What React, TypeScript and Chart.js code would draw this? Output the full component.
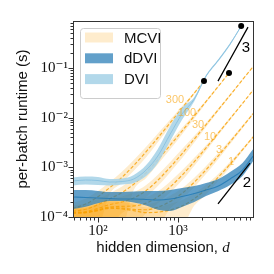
import { useEffect, useRef } from 'react';
import { Chart, registerables } from 'chart.js';
Chart.register(...registerables);

// ---------- data ----------
const dMCVI = [48, 70, 100, 140, 200, 280, 400, 560, 800, 1120, 1600, 2113, 3000, 4340, 6000, 8700];
const mcviSamples = ['300', '100', '30', '10', '3', '1'];

const mcvi300Mid = [1.48e-4, 1.82e-4, 2.57e-4, 3.89e-4, 6.33e-4, 1.09e-3, 2.07e-3, 3.94e-3, 7.92e-3, 1.54e-2, 3.14e-2, 5.45e-2];
const mcvi300Hi = [1.92e-4, 2.37e-4, 3.34e-4, 5.06e-4, 8.2e-4, 1.4e-3, 2.6e-3, 4.8e-3, 9.2e-3, 1.7e-2, 3.3e-2, 5.6e-2];
const mcvi300Lo = [7e-5, 7e-5, 7e-5, 2.9e-4, 4.9e-4, 8.5e-4, 1.6e-3, 3.2e-3, 6.8e-3, 1.38e-2, 2.95e-2, 5.3e-2];

const mcvi100Mid = [1.3e-4, 1.43e-4, 1.77e-4, 2.32e-4, 3.13e-4, 4.58e-4, 7.85e-4, 1.42e-3, 2.79e-3, 5.35e-3, 1.08e-2, 1.88e-2, 3.78e-2, 7.9e-2];
const mcvi100Hi = [1.7e-4, 1.86e-4, 2.3e-4, 3.0e-4, 4.1e-4, 6.0e-4, 1.0e-3, 1.8e-3, 3.4e-3, 6.2e-3, 1.2e-2, 2.0e-2, 3.9e-2, 8.0e-2];
const mcvi100Lo = [7e-5, 7e-5, 7e-5, 7e-5, 7e-5, 3.5e-4, 6.1e-4, 1.15e-3, 2.3e-3, 4.6e-3, 9.6e-3, 1.74e-2, 3.6e-2, 7.7e-2];

const mcvi30Mid = [1.23e-4, 1.29e-4, 1.49e-4, 1.78e-4, 2.01e-4, 2.41e-4, 3.41e-4, 5.5e-4, 1.01e-3, 1.87e-3, 3.71e-3, 6.4e-3, 1.28e-2, 2.67e-2, 5.09e-2, 1.069e-1];
const mcvi30Hi = [1.6e-4, 1.68e-4, 1.95e-4, 2.3e-4, 2.6e-4, 3.15e-4, 4.4e-4, 7.1e-4, 1.28e-3, 2.3e-3, 4.3e-3, 7.1e-3, 1.38e-2, 2.8e-2, 5.2e-2, 1.08e-1];
const mcvi30Lo = [7e-5, 7e-5, 7e-5, 7e-5, 1.2e-4, 1.6e-4, 2.5e-4, 4.2e-4, 8.0e-4, 1.52e-3, 3.15e-3, 5.7e-3, 1.18e-2, 2.55e-2, 4.95e-2, 1.05e-1];

const mcvi10Mid = [1.21e-4, 1.24e-4, 1.4e-4, 1.59e-4, 1.64e-4, 1.67e-4, 1.9e-4, 2.55e-4, 4.06e-4, 6.9e-4, 1.3e-3, 2.2e-3, 4.33e-3, 8.96e-3, 1.7e-2, 3.57e-2];
const mcvi10Hi = [1.55e-4, 1.6e-4, 1.9e-4, 2.15e-4, 2.15e-4, 2.2e-4, 2.5e-4, 3.3e-4, 5.2e-4, 8.6e-4, 1.55e-3, 2.5e-3, 4.7e-3, 9.5e-3, 1.76e-2, 3.65e-2];
const mcvi10Lo = [7e-5, 7e-5, 7e-5, 7e-5, 7e-5, 7e-5, 1.2e-4, 1.9e-4, 3.1e-4, 5.4e-4, 1.08e-3, 1.9e-3, 3.95e-3, 8.4e-3, 1.64e-2, 3.5e-2];

const mcvi3Mid = [1.2e-4, 1.23e-4, 1.36e-4, 1.53e-4, 1.51e-4, 1.42e-4, 1.4e-4, 1.58e-4, 2.06e-4, 2.98e-4, 5.04e-4, 8.05e-4, 1.52e-3, 3.07e-3, 5.78e-3, 1.205e-2];
const mcvi3Hi = [1.5e-4, 1.55e-4, 1.85e-4, 2.1e-4, 2.05e-4, 1.9e-4, 1.8e-4, 2.05e-4, 2.7e-4, 3.8e-4, 6.2e-4, 9.6e-4, 1.75e-3, 3.4e-3, 6.2e-3, 1.26e-2];
const mcvi3Lo = [7e-5, 7e-5, 7e-5, 7e-5, 7e-5, 7e-5, 7e-5, 7e-5, 1.5e-4, 2.3e-4, 4.0e-4, 6.6e-4, 1.3e-3, 2.75e-3, 5.35e-3, 1.15e-2];

const mcvi1Mid = [1.2e-4, 1.22e-4, 1.35e-4, 1.5e-4, 1.45e-4, 1.34e-4, 1.23e-4, 1.25e-4, 1.39e-4, 1.66e-4, 2.35e-4, 3.35e-4, 5.74e-4, 1.09e-3, 2.0e-3, 4.08e-3];
const mcvi1Hi = [1.45e-4, 1.5e-4, 1.8e-4, 2.05e-4, 2.0e-4, 1.8e-4, 1.55e-4, 1.6e-4, 1.85e-4, 2.2e-4, 3.0e-4, 4.1e-4, 6.7e-4, 1.22e-3, 2.15e-3, 4.3e-3];
const mcvi1Lo = [7e-5, 7e-5, 7e-5, 7e-5, 7e-5, 7e-5, 7e-5, 7e-5, 7e-5, 7e-5, 1.7e-4, 2.6e-4, 4.8e-4, 9.5e-4, 1.85e-3, 3.9e-3];

const dDDVI = [48, 70, 100, 140, 200, 280, 400, 560, 800, 1120, 1600, 2240, 3200, 4480, 6400, 8700];
const ddviMid = [2.53e-4, 2.47e-4, 2.41e-4, 2.36e-4, 2.3e-4, 2.3e-4, 2.25e-4, 2.2e-4, 2.3e-4, 2.58e-4, 2.97e-4, 3.49e-4, 4.2e-4, 5.82e-4, 8.83e-4, 1.69e-3];
const ddviHi = [3.49e-4, 3.49e-4, 3.34e-4, 3.18e-4, 3.18e-4, 3.26e-4, 3.34e-4, 3.34e-4, 3.49e-4, 3.83e-4, 4.2e-4, 4.83e-4, 5.82e-4, 8.04e-4, 1.22e-3, 2.34e-3];
const ddviLo = [1.45e-4, 1.6e-4, 1.9e-4, 2.1e-4, 2.1e-4, 1.95e-4, 1.7e-4, 1.4e-4, 1.32e-4, 1.59e-4, 2.0e-4, 2.65e-4, 3.34e-4, 4.4e-4, 6.68e-4, 1.34e-3];

const dDVI = [48, 70, 100, 140, 200, 280, 400, 560, 800, 1120, 1600, 2240, 3200, 4480, 6160];
const dviMid = [5.3e-4, 5.55e-4, 5.42e-4, 5.06e-4, 5.18e-4, 5.82e-4, 8.83e-4, 1.69e-3, 4.68e-3, 1.18e-2, 2.37e-2, 6.87e-2, 0.144, 0.303, 0.697];
const dviHi = [6.24e-4, 6.53e-4, 6.38e-4, 5.82e-4, 5.95e-4, 7.0e-4, 1.11e-3, 2.34e-3, 6.78e-3, 1.56e-2, 2.62e-2, 7.2e-2, 0.151, 0.318, 0.72];
const dviLo = [4.3e-4, 4.51e-4, 4.4e-4, 4.3e-4, 4.51e-4, 4.83e-4, 6.68e-4, 1.22e-3, 3.38e-3, 8.95e-3, 2.14e-2, 6.55e-2, 0.137, 0.288, 0.67];

const dotD = [2113, 4340, 6160];
const dotV = [0.0545, 0.079, 0.697];

const slope3D = [3162, 7499];
const slope3V = [0.0545, 0.665];
const slope2D = [3162, 7943];
const slope2V = [1.83e-4, 1.22e-3];
const slopeLabels = ['3', '2'];
const slopeLabelD = [7079, 7286];
const slopeLabelV = [0.25, 4.8e-4];

const mcviLabelD = [917, 1296, 1778, 2512, 3254, 4597];
const mcviLabelV = [0.0226, 0.0124, 7.1e-3, 4.07e-3, 2.23e-3, 1.28e-3];

const xTickValues = [100, 1000];
const xTickLabels = ['10²', '10³'];
const xMinor = [50, 60, 70, 80, 90, 200, 300, 400, 500, 600, 700, 800, 900, 2000, 3000, 4000, 5000, 6000, 7000, 8000];
const yTickValues = [1e-4, 1e-3, 1e-2, 1e-1];
const yTickLabels = ['10⁻⁴', '10⁻³', '10⁻²', '10⁻¹'];
const yMinor = [2e-4, 3e-4, 4e-4, 5e-4, 6e-4, 7e-4, 8e-4, 9e-4, 2e-3, 3e-3, 4e-3, 5e-3, 6e-3, 7e-3, 8e-3, 9e-3,
  2e-2, 3e-2, 4e-2, 5e-2, 6e-2, 7e-2, 8e-2, 9e-2, 2e-1, 3e-1, 4e-1, 5e-1, 6e-1, 7e-1, 8e-1];

const legendLabels = ['MCVI', 'dDVI', 'DVI'];

// ---------- styles ----------
const MCVI_BAND = 'rgba(248,160,4,0.2)';
const MCVI_LINE = 'rgba(248,160,4,0.8)';
const MCVI_TEXT = 'rgba(248,160,4,0.6)';
const DDVI_BAND = 'rgba(31,120,180,0.7)';
const DDVI_LINE = 'rgba(31,120,180,0.8)';
const DVI_BAND = 'rgba(170,212,232,0.9)';
const DVI_LINE = 'rgb(140,195,225)';
const legendColors = [MCVI_BAND, DDVI_BAND, DVI_BAND];

const SANS = '"Liberation Sans", Arial, sans-serif';
const SERIF = '"Liberation Serif", "DejaVu Serif", serif';

function pts(xs: number[], ys: number[]) {
  return ys.map((y, i) => ({ x: xs[i], y }));
}

function buildDatasets() {
  const ds: any[] = [];
  const push = (d: any) => { d.order = 1000 - ds.length; ds.push(d); return ds.length - 1; };
  const band = (xs: number[], lo: number[], hi: number[], color: string) => {
    const li = push({ data: pts(xs, lo), borderWidth: 0, borderColor: 'rgba(0,0,0,0)', pointRadius: 0, fill: false });
    push({ data: pts(xs, hi), borderWidth: 0, borderColor: 'rgba(0,0,0,0)', pointRadius: 0, fill: li, backgroundColor: color });
  };
  const mc: [number[], number[], number[]][] = [
    [mcvi1Lo, mcvi1Mid, mcvi1Hi],
    [mcvi3Lo, mcvi3Mid, mcvi3Hi],
    [mcvi10Lo, mcvi10Mid, mcvi10Hi],
    [mcvi30Lo, mcvi30Mid, mcvi30Hi],
    [mcvi100Lo, mcvi100Mid, mcvi100Hi],
    [mcvi300Lo, mcvi300Mid, mcvi300Hi],
  ];
  mc.forEach(([lo, mid, hi]) => {
    band(dMCVI, lo, hi, MCVI_BAND);
    push({ data: pts(dMCVI, mid), borderColor: MCVI_LINE, borderWidth: 1.2, borderDash: [3.5, 2], pointRadius: 0, fill: false });
  });
  band(dDDVI, ddviLo, ddviHi, DDVI_BAND);
  push({ data: pts(dDDVI, ddviMid), borderColor: DDVI_LINE, borderWidth: 1.1, pointRadius: 0, fill: false });
  band(dDVI, dviLo, dviHi, DVI_BAND);
  push({ data: pts(dDVI, dviMid), borderColor: DVI_LINE, borderWidth: 1, pointRadius: 0, fill: false });
  push({ data: pts(slope3D, slope3V), borderColor: '#000', borderWidth: 1.3, pointRadius: 0, fill: false });
  push({ data: pts(slope2D, slope2V), borderColor: '#000', borderWidth: 1.3, pointRadius: 0, fill: false });
  push({ data: pts(dotD, dotV), showLine: false, pointRadius: 3, pointBackgroundColor: '#000', pointBorderWidth: 0, borderColor: '#000', fill: false });
  return ds;
}

const decor = {
  id: 'decor',
  afterDatasetsDraw(chart: any) {
    const { ctx, chartArea: a, scales } = chart;
    const xs = scales.x;
    const ys = scales.y;
    ctx.save();
    // MCVI sample labels
    ctx.font = `11px ${SANS}`;
    ctx.fillStyle = MCVI_TEXT;
    ctx.textAlign = 'center';
    ctx.textBaseline = 'middle';
    mcviSamples.forEach((t, i) => {
      ctx.fillText(t, xs.getPixelForValue(mcviLabelD[i]), ys.getPixelForValue(mcviLabelV[i]));
    });
    // slope labels
    ctx.font = `15px ${SANS}`;
    ctx.fillStyle = '#000';
    slopeLabels.forEach((t, i) => {
      ctx.fillText(t, xs.getPixelForValue(slopeLabelD[i]), ys.getPixelForValue(slopeLabelV[i]));
    });
    // frame
    ctx.strokeStyle = '#333';
    ctx.lineWidth = 1;
    ctx.strokeRect(a.left + 0.5, a.top + 0.5, a.right - a.left, a.bottom - a.top);
    // ticks
    const tick = (x1: number, y1: number, x2: number, y2: number) => {
      ctx.beginPath(); ctx.moveTo(x1, y1); ctx.lineTo(x2, y2); ctx.stroke();
    };
    xTickValues.forEach((v) => { const p = Math.round(xs.getPixelForValue(v)) + 0.5; tick(p, a.bottom + 1, p, a.bottom + 5.5); });
    xMinor.forEach((v) => { const p = Math.round(xs.getPixelForValue(v)) + 0.5; tick(p, a.bottom + 1, p, a.bottom + 3.5); });
    yTickValues.forEach((v) => { const p = Math.round(ys.getPixelForValue(v)) + 0.5; tick(a.left, p, a.left - 4.5, p); });
    yMinor.forEach((v) => { const p = Math.round(ys.getPixelForValue(v)) + 0.5; tick(a.left, p, a.left - 2.5, p); });
    // legend
    const lx = 80.5, ly = 28.5, lw = 80, lh = 70, r = 3;
    ctx.beginPath();
    ctx.moveTo(lx + r, ly);
    ctx.lineTo(lx + lw - r, ly); ctx.arcTo(lx + lw, ly, lx + lw, ly + r, r);
    ctx.lineTo(lx + lw, ly + lh - r); ctx.arcTo(lx + lw, ly + lh, lx + lw - r, ly + lh, r);
    ctx.lineTo(lx + r, ly + lh); ctx.arcTo(lx, ly + lh, lx, ly + lh - r, r);
    ctx.lineTo(lx, ly + r); ctx.arcTo(lx, ly, lx + r, ly, r);
    ctx.closePath();
    ctx.fillStyle = 'rgba(255,255,255,0.8)';
    ctx.fill();
    ctx.strokeStyle = '#cccccc';
    ctx.stroke();
    ctx.font = `15px ${SANS}`;
    ctx.textAlign = 'left';
    ctx.textBaseline = 'middle';
    legendLabels.forEach((t, i) => {
      const cy = 37.5 + i * 20.8;
      ctx.fillStyle = legendColors[i];
      ctx.fillRect(85, cy - 5, 28, 10);
      ctx.fillStyle = '#111';
      ctx.fillText(t, 124, cy + 1);
    });
    // x title with italic d
    const t1 = 'hidden dimension, ';
    ctx.font = `15px ${SANS}`;
    const w1 = ctx.measureText(t1).width;
    ctx.font = `italic 15px ${SERIF}`;
    const w2 = ctx.measureText('d').width;
    const cx = (a.left + a.right) / 2;
    const x0 = cx - (w1 + w2) / 2;
    ctx.textBaseline = 'alphabetic';
    ctx.fillStyle = '#111';
    ctx.font = `15px ${SANS}`;
    ctx.fillText(t1, x0, 252);
    ctx.font = `italic 15px ${SERIF}`;
    ctx.fillText('d', x0 + w1, 252);
    ctx.restore();
  },
};

export default function App() {
  const ref = useRef<HTMLCanvasElement>(null);
  useEffect(() => {
    if (!ref.current) return;
    const chart = new Chart(ref.current, {
      type: 'line',
      data: { datasets: buildDatasets() },
      options: {
        animation: false,
        responsive: false,
        events: [],
        layout: { padding: { top: 21, right: 21, left: 0, bottom: 0 } },
        elements: { line: { cubicInterpolationMode: 'monotone' }, point: { radius: 0 } },
        plugins: { legend: { display: false }, tooltip: { enabled: false } },
        scales: {
          x: {
            type: 'logarithmic',
            min: 48.7,
            max: 8660,
            bounds: 'data',
            afterBuildTicks: (s: any) => { s.ticks = xTickValues.map((v) => ({ value: v })); },
            afterFit: (s: any) => { s.height = 57; },
            grid: { display: false, drawTicks: false, tickLength: 0 },
            border: { display: false },
            ticks: {
              autoSkip: false, maxRotation: 0, minRotation: 0, padding: 5, color: '#111',
              font: { family: SERIF, size: 15 },
              callback: (_v: any, i: number) => xTickLabels[i],
            },
            title: { display: false },
          },
          y: {
            type: 'logarithmic',
            min: 1e-4,
            max: 0.883,
            bounds: 'data',
            afterBuildTicks: (s: any) => { s.ticks = yTickValues.map((v) => ({ value: v })); },
            afterFit: (s: any) => { s.width = 73; },
            grid: { display: false, drawTicks: false, tickLength: 0 },
            border: { display: false },
            ticks: {
              autoSkip: false, padding: 5, color: '#111',
              font: { family: SERIF, size: 15 },
              callback: (_v: any, i: number) => yTickLabels[i],
            },
            title: {
              display: true, text: 'per-batch runtime (s)', color: '#111',
              font: { family: SANS, size: 15 }, padding: { top: 13.5, bottom: 0 },
            },
          },
        },
      } as any,
      plugins: [decor],
    });
    return () => chart.destroy();
  }, []);
  return (
    <div style={{ position: 'absolute', left: 0, top: 0, width: 274, height: 274, background: '#fff' }}>
      <canvas ref={ref} width={274} height={274} style={{ display: 'block', width: 274, height: 274 }} />
    </div>
  );
}
